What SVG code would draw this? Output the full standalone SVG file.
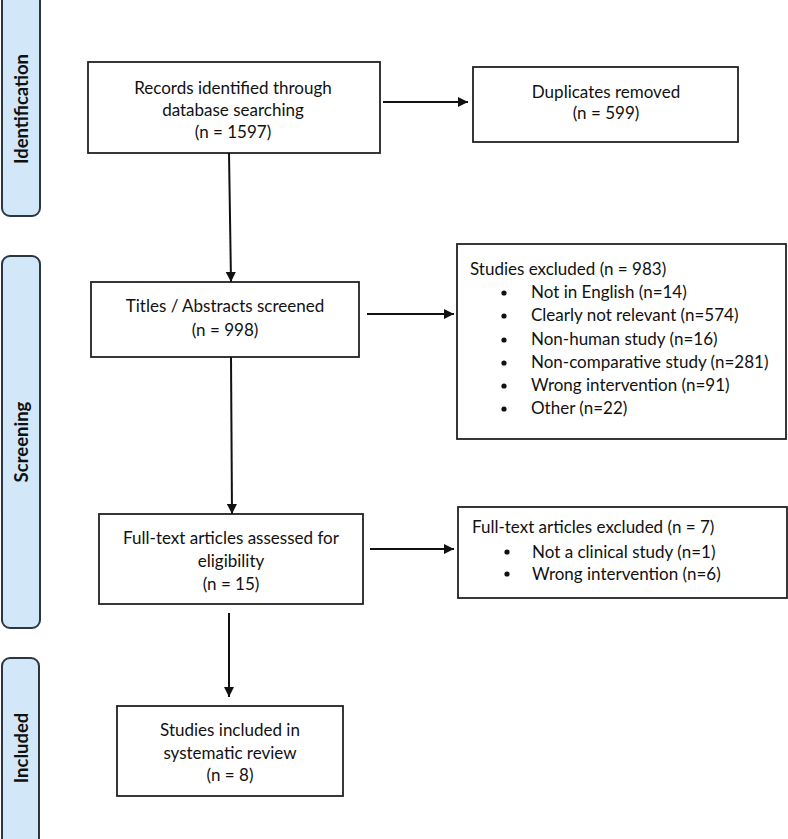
<svg xmlns="http://www.w3.org/2000/svg" width="788" height="839" viewBox="0 0 788 839">
<defs>
<style>
.bar{fill:#d2e8f8;stroke:#2b3642;stroke-width:2}
.box{fill:#fff;stroke:#222;stroke-width:1.8}
.t{font-family:Lato,"Open Sans",sans-serif;font-size:17px;fill:#111}
.c{text-anchor:middle}
.side{font-family:Lato,"Open Sans",sans-serif;font-size:18.5px;font-weight:bold;fill:#111;text-anchor:middle}
.ln{stroke:#111;stroke-width:2;fill:none}
</style>
<marker id="ah" viewBox="0 0 10 10" refX="10" refY="5" markerWidth="5" markerHeight="5" orient="auto" markerUnits="strokeWidth">
<path d="M0,0 L10,5 L0,10 z" fill="#111"/>
</marker>
</defs>
<rect width="788" height="839" fill="#fff"/>
<g id="phase-identification">
<rect class="bar" x="2" y="-8" width="38" height="224" rx="8"/>
<text class="side" transform="translate(28,109) rotate(-90)">Identification</text>
</g>
<g id="phase-screening">
<rect class="bar" x="2" y="256" width="38" height="372" rx="8"/>
<text class="side" transform="translate(28,442) rotate(-90)">Screening</text>
</g>
<g id="phase-included">
<rect class="bar" x="2" y="658" width="37" height="190" rx="8"/>
<text class="side" transform="translate(28,748) rotate(-90)">Included</text>
</g>
<g id="records">
<rect class="box" x="88" y="62" width="292" height="91"/>
<text class="t c" x="233" y="94">Records identified through</text>
<text class="t c" x="233" y="116">database searching</text>
<text class="t c" x="233" y="138">(n = 1597)</text>
</g>
<g id="duplicates">
<rect class="box" x="473" y="67" width="265" height="75"/>
<text class="t c" x="606" y="98">Duplicates removed</text>
<text class="t c" x="606" y="119">(n = 599)</text>
</g>
<g id="titles">
<rect class="box" x="91" y="282" width="268" height="75"/>
<text class="t c" x="225" y="312">Titles / Abstracts screened</text>
<text class="t c" x="225" y="336">(n = 998)</text>
</g>
<g id="studies-excluded">
<rect class="box" x="457" y="244" width="329" height="195"/>
<text class="t" x="470" y="275">Studies excluded (n = 983)</text>
<circle cx="504" cy="293" r="2.6" fill="#111"/><text class="t" x="531" y="298">Not in English (n=14)</text>
<circle cx="504" cy="316" r="2.6" fill="#111"/><text class="t" x="531" y="321">Clearly not relevant (n=574)</text>
<circle cx="504" cy="340" r="2.6" fill="#111"/><text class="t" x="531" y="345">Non-human study (n=16)</text>
<circle cx="504" cy="363" r="2.6" fill="#111"/><text class="t" x="531" y="368">Non-comparative study (n=281)</text>
<circle cx="504" cy="386" r="2.6" fill="#111"/><text class="t" x="531" y="391">Wrong intervention (n=91)</text>
<circle cx="504" cy="409" r="2.6" fill="#111"/><text class="t" x="531" y="414">Other (n=22)</text>
</g>
<g id="fulltext">
<rect class="box" x="99" y="514" width="264" height="90"/>
<text class="t c" x="231" y="544">Full-text articles assessed for</text>
<text class="t c" x="231" y="567">eligibility</text>
<text class="t c" x="231" y="590">(n = 15)</text>
</g>
<g id="fulltext-excluded">
<rect class="box" x="458" y="507" width="329" height="91"/>
<text class="t" x="472" y="533">Full-text articles excluded (n = 7)</text>
<circle cx="507" cy="552" r="2.6" fill="#111"/><text class="t" x="532" y="558">Not a clinical study (n=1)</text>
<circle cx="507" cy="574" r="2.6" fill="#111"/><text class="t" x="532" y="580">Wrong intervention (n=6)</text>
</g>
<g id="included">
<rect class="box" x="117" y="706" width="226" height="90"/>
<text class="t c" x="230" y="736">Studies included in</text>
<text class="t c" x="230" y="759">systematic review</text>
<text class="t c" x="230" y="781">(n = 8)</text>
</g>
<g id="connectors">
<line class="ln" x1="383" y1="102" x2="468" y2="102" marker-end="url(#ah)"/>
<line class="ln" x1="229" y1="153" x2="231" y2="282" marker-end="url(#ah)"/>
<line class="ln" x1="367" y1="314" x2="454" y2="314" marker-end="url(#ah)"/>
<line class="ln" x1="231" y1="357" x2="232" y2="514" marker-end="url(#ah)"/>
<line class="ln" x1="370" y1="549" x2="454" y2="549" marker-end="url(#ah)"/>
<line class="ln" x1="229" y1="613" x2="229" y2="697" marker-end="url(#ah)"/>
</g>
</svg>
